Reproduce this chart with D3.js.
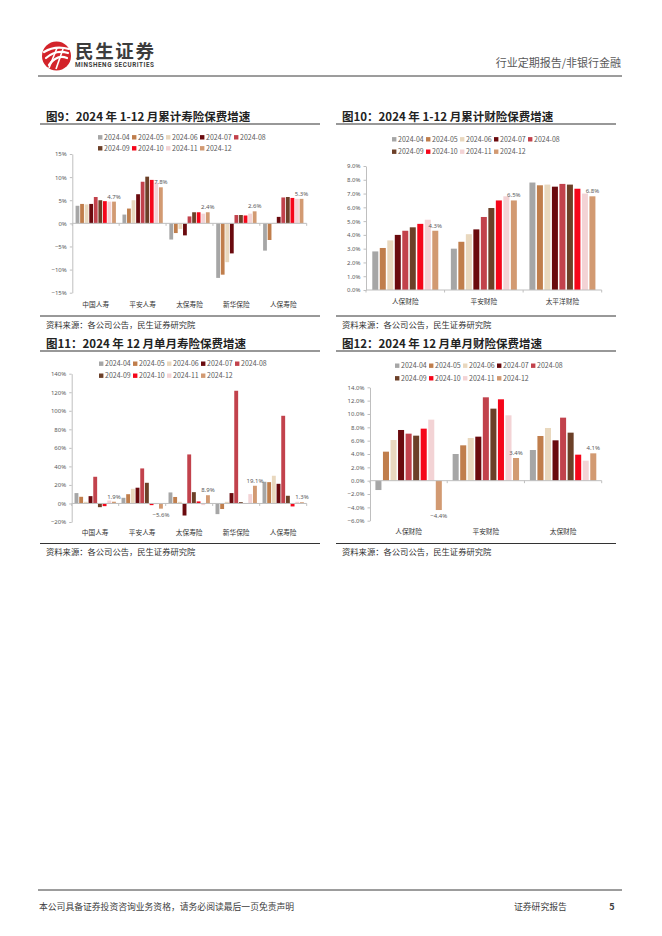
<!DOCTYPE html>
<html lang="zh-CN">
<head>
<meta charset="UTF-8">
<title>民生证券 保费增速</title>
<script src="https://cdn.jsdelivr.net/npm/d3@7"></script>
<style>
    body { margin: 0; background: #fff; }
    svg { display: block; font-family: "Noto Sans CJK SC", "Noto Sans", sans-serif; }
</style>
</head>
<body>
<svg id="page" width="662" height="936"></svg>
<script>
// ---- data ----
const months = ["2024-04", "2024-05", "2024-06", "2024-07", "2024-08", "2024-09", "2024-10", "2024-11", "2024-12"];
const monthColors = ["#A6A6A6", "#C07E4C", "#E9D8BE", "#6A0A0E", "#C2424C", "#6C4028", "#F5061A", "#F3D3D5", "#D29A72"];

// 图9 累计寿险
const lifeCos = ["中国人寿", "平安人寿", "太保寿险", "新华保险", "人保寿险"];
const fig9Values = [
    [3.8, 4.2, 4.1, 4.2, 5.7, 5.0, 4.8, 4.7, 4.7],
    [1.9, 3.2, 5.0, 6.3, 9.0, 10.1, 9.4, 8.8, 7.8],
    [-3.5, -2.1, -1.2, -2.6, 1.5, 2.4, 2.4, 2.1, 2.4],
    [-11.8, -11.1, -8.4, -6.5, 1.8, 1.8, 1.7, 2.1, 2.6],
    [-5.9, -3.6, 0.1, 1.4, 5.6, 5.7, 5.5, 5.3, 5.3]
];

// 图10 累计财险
const fig10Cats = ["人保财险", "平安财险", "太平洋财险"];
const fig10Values = [
    [2.8, 3.05, 3.6, 4.0, 4.3, 4.55, 4.8, 5.1, 4.3],
    [3.0, 3.5, 4.05, 4.4, 5.3, 5.95, 6.5, 6.8, 6.5],
    [7.8, 7.6, 7.65, 7.5, 7.7, 7.65, 7.35, 7.0, 6.8]
];

// 图11 单月寿险
const fig11Values = [
    [11.2, 7.2, 1.8, 7.9, 28.8, -4.0, -2.9, 3.2, 1.9],
    [6.1, 10.0, 15.8, 17.0, 37.8, 22.3, -1.8, -0.8, -5.6],
    [11.9, 7.0, 1.8, -13.0, 52.9, 12.2, 2.2, -1.8, 8.9],
    [-11.5, -6.0, 1.8, 11.2, 121.6, 1.4, 0.3, 10.1, 19.1],
    [23.4, 23.0, 29.9, 21.2, 94.6, 8.3, -3.2, 1.8, 1.3]
];

// 图12 单月财险
const fig12Cats = ["人保财险", "平安财险", "太保财险"];
const fig12Values = [
    [-1.4, 4.35, 6.1, 7.6, 7.05, 6.75, 7.8, 9.15, -4.4],
    [4.0, 5.3, 6.4, 6.6, 12.5, 10.8, 12.2, 9.8, 3.4],
    [4.6, 6.7, 7.9, 6.05, 9.45, 7.2, 3.9, 3.0, 4.1]
];

const svg = d3.select("#page");

// ---- header ----
const logo = svg.append("g");
logo.append("circle").attr("cx", 56.5).attr("cy", 56).attr("r", 14.5).attr("fill", "#D3232A");
["M44,52 Q55,45 69,49", "M46,58 Q56,49 68,53", "M49,65 Q57,54 67,58"].forEach(d => {
    logo.append("path").attr("d", d).attr("fill", "none").attr("stroke", "#fff")
        .attr("stroke-width", 2.2).attr("stroke-linecap", "round");
});
[[57, 48, 49, 68], [63, 49, 56, 69]].forEach(p => {
    logo.append("line").attr("x1", p[0]).attr("y1", p[1]).attr("x2", p[2]).attr("y2", p[3])
        .attr("stroke", "#fff").attr("stroke-width", 1.6);
});
svg.append("text").attr("x", 75).attr("y", 57.5).attr("font-size", 18.5).attr("font-weight", "bold")
    .attr("fill", "#3C3C3C").attr("textLength", 79).text("民生证券");
svg.append("text").attr("x", 75).attr("y", 67).attr("font-size", 6.3).attr("font-weight", "bold")
    .attr("font-family", "Roboto, sans-serif").attr("fill", "#3C3C3C").attr("textLength", 79)
    .text("MINSHENG SECURITIES");
svg.append("text").attr("x", 621).attr("y", 67).attr("text-anchor", "end").attr("font-size", 11)
    .attr("fill", "#595959").text("行业定期报告/非银行金融");
svg.append("line").attr("x1", 38).attr("x2", 622).attr("y1", 76).attr("y2", 76)
    .attr("stroke", "#3A3A3A").attr("stroke-width", 1);

// ---- footer ----
svg.append("line").attr("x1", 38).attr("x2", 622).attr("y1", 890).attr("y2", 890)
    .attr("stroke", "#3A3A3A").attr("stroke-width", 1);
svg.append("text").attr("x", 39).attr("y", 910).attr("font-size", 8.8).attr("fill", "#404040")
    .text("本公司具备证券投资咨询业务资格，请务必阅读最后一页免责声明");
svg.append("text").attr("x", 514).attr("y", 910).attr("font-size", 8.8).attr("fill", "#404040")
    .text("证券研究报告");
svg.append("text").attr("x", 612).attr("y", 910).attr("text-anchor", "middle").attr("font-size", 9)
    .attr("font-weight", "bold").attr("fill", "#404040").text("5");

// ---- chart panels ----
function drawChart(cfg) {
    const g = svg.append("g");

    // title + underline
    g.append("text").attr("x", cfg.px + 6).attr("y", cfg.titleY).attr("font-size", 11.5)
        .attr("font-weight", "bold").attr("fill", "#222").text(cfg.title);
    g.append("line").attr("x1", cfg.px).attr("x2", cfg.px + cfg.pw)
        .attr("y1", cfg.titleY + 3).attr("y2", cfg.titleY + 3)
        .attr("stroke", "#333").attr("stroke-width", 1.1);

    // legend, two rows
    const legend = g.append("g");
    months.forEach((m, i) => {
        const row = i < 5 ? 0 : 1;
        const col = i < 5 ? i : i - 5;
        const lx = cfg.legendX + col * 34;
        const ly = cfg.legendY[row];
        legend.append("rect").attr("x", lx).attr("y", ly - 2.2).attr("width", 4.4).attr("height", 4.4)
            .attr("fill", monthColors[i]);
        legend.append("text").attr("x", lx + 6).attr("y", ly + 2.5).attr("font-size", 7)
            .attr("fill", "#595959").text(m);
    });

    // scales
    const y = d3.scaleLinear().domain(cfg.domain).range([cfg.bottom, cfg.top]);
    const x0 = d3.scaleBand().domain(cfg.cats).range([cfg.left, cfg.right]);
    const gap = x0.bandwidth() * (1 - cfg.groupFrac) / 2;
    const x1 = d3.scaleBand().domain(months).range([gap, x0.bandwidth() - gap]).paddingInner(cfg.barPad);

    // y axis
    const ticks = d3.range(cfg.domain[0], cfg.domain[1] + cfg.step / 2, cfg.step);
    const yAxis = g.append("g").attr("transform", `translate(${cfg.left},0)`)
        .call(d3.axisLeft(y).tickValues(ticks).tickFormat(cfg.fmt).tickSize(2.5).tickPadding(3).tickSizeOuter(0));
    yAxis.select(".domain").attr("stroke", "#BFBFBF");
    yAxis.selectAll(".tick line").attr("stroke", "#BFBFBF");
    yAxis.selectAll(".tick text").attr("font-size", 6).attr("fill", "#595959")
        .attr("font-family", "'Noto Sans', sans-serif");

    // bars
    cfg.cats.forEach((c, ci) => {
        g.append("g").selectAll("rect")
            .data(cfg.values[ci])
            .enter().append("rect")
            .attr("x", (v, i) => x0(c) + x1(months[i]))
            .attr("y", v => y(Math.max(0, v)))
            .attr("width", x1.bandwidth())
            .attr("height", v => Math.abs(y(v) - y(0)))
            .attr("fill", (v, i) => monthColors[i]);
    });

    // x axis along zero
    const zy = y(0);
    g.append("line").attr("x1", cfg.left).attr("x2", cfg.right).attr("y1", zy).attr("y2", zy)
        .attr("stroke", "#BFBFBF").attr("stroke-width", 1);
    const bounds = cfg.cats.map(c => x0(c)).concat([cfg.right]);
    g.append("g").selectAll("line").data(bounds).enter().append("line")
        .attr("x1", d => d).attr("x2", d => d).attr("y1", zy).attr("y2", zy + 2.5)
        .attr("stroke", "#BFBFBF");

    // category labels
    g.append("g").selectAll("text").data(cfg.cats).enter().append("text")
        .attr("x", c => x0(c) + x0.bandwidth() / 2).attr("y", cfg.catY)
        .attr("text-anchor", "middle").attr("font-size", 6.7).attr("fill", "#333").text(c => c);

    // value labels on 2024-12 bars
    const last = months.length - 1;
    g.append("g").selectAll("text").data(cfg.cats).enter().append("text")
        .attr("x", c => x0(c) + x1(months[last]) + x1.bandwidth() / 2)
        .attr("y", (c, ci) => {
            const v = cfg.values[ci][last];
            return v >= 0 ? y(v) - 3 : y(v) + 8;
        })
        .attr("text-anchor", "middle").attr("font-size", 6).attr("fill", "#595959")
        .attr("font-family", "'Noto Sans', sans-serif")
        .text((c, ci) => d3.format(".1f")(cfg.values[ci][last]) + "%");

    // source
    g.append("line").attr("x1", cfg.px).attr("x2", cfg.px + cfg.pw)
        .attr("y1", cfg.srcLineY).attr("y2", cfg.srcLineY).attr("stroke", "#333").attr("stroke-width", 1);
    g.append("text").attr("x", cfg.px + 6).attr("y", cfg.srcLineY + 11.5).attr("font-size", 8.3)
        .attr("fill", "#333").text("资料来源：各公司公告，民生证券研究院");
}

const pctInt = d => d3.format(".0f")(d) + "%";
const pctOne = d => d3.format(".1f")(d) + "%";

drawChart({
    title: "图9：2024 年 1-12 月累计寿险保费增速",
    px: 40, pw: 280, titleY: 121,
    legendX: 98, legendY: [137.3, 148.3],
    cats: lifeCos, values: fig9Values,
    domain: [-15, 15], step: 5, fmt: pctInt,
    left: 72.3, right: 306.7, top: 154, bottom: 292.7,
    groupFrac: 0.86, barPad: 0.17,
    catY: 306.5, srcLineY: 316
});

drawChart({
    title: "图10：2024 年 1-12 月累计财险保费增速",
    px: 336, pw: 280, titleY: 121,
    legendX: 392, legendY: [139.3, 151.7],
    cats: fig10Cats, values: fig10Values,
    domain: [0, 9], step: 1, fmt: pctOne,
    left: 366, right: 601.7, top: 166, bottom: 290,
    groupFrac: 0.84, barPad: 0.2,
    catY: 303.5, srcLineY: 316
});

drawChart({
    title: "图11：2024 年 12 月单月寿险保费增速",
    px: 40, pw: 280, titleY: 348,
    legendX: 99, legendY: [363.7, 375.7],
    cats: lifeCos, values: fig11Values,
    domain: [-20, 140], step: 20, fmt: pctInt,
    left: 71.7, right: 306.7, top: 373.7, bottom: 522,
    groupFrac: 0.88, barPad: 0.17,
    catY: 534.5, srcLineY: 543.5
});

drawChart({
    title: "图12：2024 年 12 月单月财险保费增速",
    px: 336, pw: 280, titleY: 348,
    legendX: 395, legendY: [365.7, 378.3],
    cats: fig12Cats, values: fig12Values,
    domain: [-6, 14], step: 2, fmt: pctOne,
    left: 370, right: 601.7, top: 387.3, bottom: 520.7,
    groupFrac: 0.86, barPad: 0.2,
    catY: 534, srcLineY: 543.5
});
</script>
</body>
</html>
